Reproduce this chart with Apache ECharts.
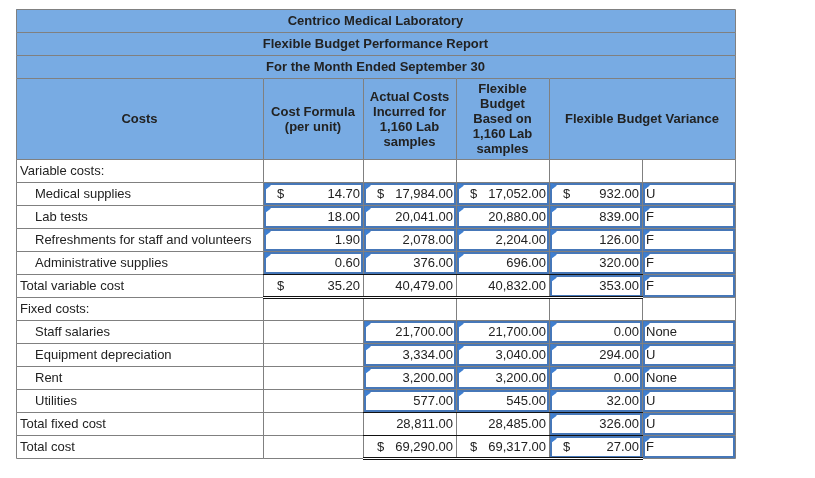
<!DOCTYPE html>
<html>
<head>
<meta charset="utf-8">
<script src="https://cdn.jsdelivr.net/npm/echarts@6/dist/echarts.min.js"></script>
<style>
html,body{margin:0;padding:0;background:#fff;}
#chart{width:815px;height:478px;}
</style>
</head>
<body>
<div id="chart"></div>
<script>
// ---------- DATA ----------
const titleLines = ['Centrico Medical Laboratory', 'Flexible Budget Performance Report', 'For the Month Ended September 30'];
const columnHeaders = ['Costs', 'Cost Formula\n(per unit)', 'Actual Costs\nIncurred for\n1,160 Lab\nsamples', 'Flexible\nBudget\nBased on\n1,160 Lab\nsamples', 'Flexible Budget Variance'];
const rowLabels = ['Variable costs:', 'Medical supplies', 'Lab tests', 'Refreshments for staff and volunteers', 'Administrative supplies', 'Total variable cost', 'Fixed costs:', 'Staff salaries', 'Equipment depreciation', 'Rent', 'Utilities', 'Total fixed cost', 'Total cost'];
const rowIndent = [0, 1, 1, 1, 1, 0, 0, 1, 1, 1, 1, 0, 0];
const costFormula = [null, 14.70, 18.00, 1.90, 0.60, 35.20, null, null, null, null, null, null, null];
const actualCosts = [null, 17984, 20041, 2078, 376, 40479, null, 21700, 3334, 3200, 577, 28811, 69290];
const flexibleBudget = [null, 17052, 20880, 2204, 696, 40832, null, 21700, 3040, 3200, 545, 28485, 69317];
const budgetVariance = [null, 932, 839, 126, 320, 353, null, 0, 294, 0, 32, 326, 27];
const varianceType = [null, 'U', 'F', 'F', 'F', 'F', null, 'None', 'U', 'None', 'U', 'U', 'F'];

// ---------- LAYOUT / STYLE ----------
const colEdges = [0, 247, 347, 440, 533, 626, 719];
const rowEdges = [0, 23, 46, 69, 150, 173, 196, 219, 242, 265, 288, 311, 334, 357, 380, 403, 426, 449];
const HEAD = '#78abe3';
const GRID = '#808080';
const BLUE = '#4677b8';
const FLAG = '#3f7fd0';
const TXT = '#222222';
const FONT = '13px "Liberation Sans", Arial, sans-serif';
const BFONT = 'bold 13px "Liberation Sans", Arial, sans-serif';

const numCols = [costFormula, actualCosts, flexibleBudget, budgetVariance];
const dollarRows = [[1, 5], [1, 12], [1, 12], [1, 12]];
const inputRows = [[1, 2, 3, 4], [1, 2, 3, 4, 7, 8, 9, 10], [1, 2, 3, 4, 7, 8, 9, 10], [1, 2, 3, 4, 5, 7, 8, 9, 10, 11, 12]];
const typeInputRows = [1, 2, 3, 4, 5, 7, 8, 9, 10, 11, 12];
const rules = [
  {r: 5, c0: 1, c1: 5, top: true, dbl: true},
  {r: 11, c0: 2, c1: 5, top: true, dbl: false},
  {r: 12, c0: 2, c1: 5, top: true, dbl: true}
];

// ---------- BUILD CELLS ----------
const cells = [];
titleLines.forEach((t, i) => cells.push({c0: 0, c1: 6, r0: i, r1: i + 1, fill: HEAD, text: t, bold: true, align: 'center'}));
const headerSpans = [[0, 1], [1, 2], [2, 3], [3, 4], [4, 6]];
columnHeaders.forEach((t, i) => cells.push({c0: headerSpans[i][0], c1: headerSpans[i][1], r0: 3, r1: 4, fill: HEAD, text: t, bold: true, align: 'center'}));
const fmt = v => v.toLocaleString('en-US', {minimumFractionDigits: 2, maximumFractionDigits: 2});
rowLabels.forEach((lab, r) => {
  const R = 4 + r;
  cells.push({c0: 0, c1: 1, r0: R, r1: R + 1, text: lab, align: 'left', indent: rowIndent[r]});
  numCols.forEach((arr, k) => {
    const v = arr[r];
    cells.push({
      c0: k + 1, c1: k + 2, r0: R, r1: R + 1,
      text: v == null ? '' : fmt(v), align: 'right',
      dollar: v != null && dollarRows[k].indexOf(r) >= 0,
      input: inputRows[k].indexOf(r) >= 0
    });
  });
  cells.push({c0: 5, c1: 6, r0: R, r1: R + 1, text: varianceType[r] || '', align: 'left', input: typeInputRows.indexOf(r) >= 0});
});

function renderCell(params, api) {
  const c = cells[params.dataIndex];
  const a = api.coord([colEdges[c.c0], rowEdges[c.r0]]);
  const b = api.coord([colEdges[c.c1], rowEdges[c.r1]]);
  const x0 = Math.round(a[0]), y0 = Math.round(a[1]), x1 = Math.round(b[0]), y1 = Math.round(b[1]);
  const ch = [];
  if (c.fill) ch.push({type: 'rect', shape: {x: x0, y: y0, width: x1 - x0, height: y1 - y0}, style: {fill: c.fill}});
  ch.push({type: 'rect', shape: {x: x0 + 0.5, y: y0 + 0.5, width: x1 - x0, height: y1 - y0}, style: {fill: 'none', stroke: GRID, lineWidth: 1}});
  if (c.input) {
    ch.push({type: 'rect', shape: {x: x0 + 2, y: y0 + 2, width: x1 - x0 - 3, height: y1 - y0 - 3}, style: {fill: 'none', stroke: BLUE, lineWidth: 2}});
    ch.push({type: 'polygon', shape: {points: [[x0 + 2, y0 + 1], [x0 + 8, y0 + 3.5], [x0 + 2, y0 + 8]]}, style: {fill: FLAG}});
  }
  const cy = (y0 + y1) / 2 + 1;
  const font = c.bold ? BFONT : FONT;
  if (c.text) {
    let tx;
    if (c.align === 'center') tx = (x0 + x1) / 2;
    else if (c.align === 'right') tx = x1 - 3;
    else tx = x0 + 4 + (c.indent ? 15 : 0);
    ch.push({type: 'text', x: tx, y: cy, style: {text: c.text, fill: TXT, font: font, align: c.align, textAlign: c.align, verticalAlign: 'middle', textVerticalAlign: 'middle', lineHeight: 15}});
  }
  if (c.dollar) {
    ch.push({type: 'text', x: x0 + 14, y: cy, style: {text: '$', fill: TXT, font: FONT, align: 'left', textAlign: 'left', verticalAlign: 'middle', textVerticalAlign: 'middle'}});
  }
  return {type: 'group', children: ch};
}

function renderRule(params, api) {
  const u = rules[params.dataIndex];
  const R = 4 + u.r;
  const a = api.coord([colEdges[u.c0], rowEdges[R]]);
  const b = api.coord([colEdges[u.c1], rowEdges[R + 1]]);
  const x0 = Math.round(a[0]), y0 = Math.round(a[1]), x1 = Math.round(b[0]), y1 = Math.round(b[1]);
  const ch = [];
  if (u.top) ch.push({type: 'rect', shape: {x: x0, y: y0, width: x1 - x0 + 1, height: 1}, style: {fill: '#111'}});
  if (u.dbl) {
    ch.push({type: 'rect', shape: {x: x0, y: y1 - 1, width: x1 - x0 + 1, height: 1}, style: {fill: '#111'}});
    ch.push({type: 'rect', shape: {x: x0, y: y1, width: x1 - x0 + 1, height: 1}, style: {fill: '#fff'}});
    ch.push({type: 'rect', shape: {x: x0, y: y1 + 1, width: x1 - x0 + 1, height: 1}, style: {fill: '#111'}});
  }
  return {type: 'group', children: ch};
}

const chart = echarts.init(document.getElementById('chart'), null, {renderer: 'canvas'});
chart.setOption({
  animation: false,
  backgroundColor: '#ffffff',
  grid: {left: 16, top: 9, width: 719, height: 449, show: false},
  xAxis: {type: 'value', min: 0, max: 719, show: false},
  yAxis: {type: 'value', min: 0, max: 449, inverse: true, show: false},
  series: [
    {type: 'custom', renderItem: renderCell, data: cells.map((c, i) => [colEdges[c.c0], rowEdges[c.r0], i]), encode: {x: 0, y: 1}, silent: true, clip: false, z: 2},
    {type: 'custom', renderItem: renderRule, data: rules.map((u, i) => [colEdges[u.c0], rowEdges[4 + u.r], i]), encode: {x: 0, y: 1}, silent: true, clip: false, z: 3}
  ]
});
</script>
</body>
</html>
